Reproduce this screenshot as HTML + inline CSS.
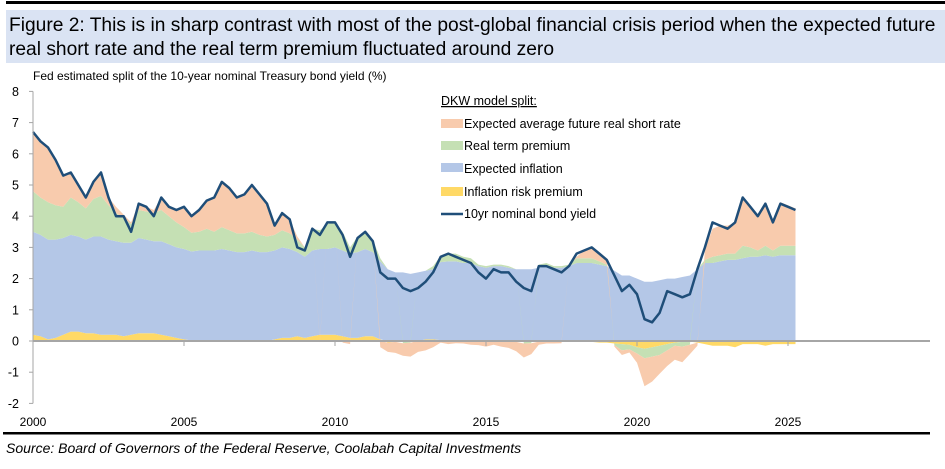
<!DOCTYPE html>
<html><head><meta charset="utf-8"><style>
body{margin:0;width:945px;height:464px;background:#fff;overflow:hidden;font-family:"Liberation Sans",sans-serif;}
</style></head><body>
<svg width="945" height="464" viewBox="0 0 945 464" xmlns="http://www.w3.org/2000/svg" id="svg">
<rect x="6" y="1" width="939" height="3" fill="#000"/>
<rect x="6" y="10" width="939" height="53" fill="#dae3f3"/>
<text x="9" y="31" font-size="19.2" fill="#000">Figure 2: This is in sharp contrast with most of the post-global financial crisis period when the expected future</text>
<text x="9" y="55" font-size="19.2" fill="#000">real short rate and the real term premium fluctuated around zero</text>
<text x="33" y="80" font-size="12" fill="#000">Fed estimated split of the 10-year nominal Treasury bond yield (%)</text>
<g id="marks"></g>
<g id="axes"></g>
<g>
<text x="441" y="105" font-size="12.5" text-decoration="underline">DKW model split:</text>
<rect x="441" y="119" width="22" height="9" fill="#f8cbad"/>
<text x="464" y="128" font-size="12.5">Expected average future real short rate</text>
<rect x="441" y="141" width="22" height="9" fill="#c5e0b4"/>
<text x="464" y="150" font-size="12.5">Real term premium</text>
<rect x="441" y="163" width="22" height="9" fill="#b4c7e7"/>
<text x="464" y="173" font-size="12.5">Expected inflation</text>
<rect x="441" y="187" width="22" height="9" fill="#ffd966"/>
<text x="464" y="196" font-size="12.5">Inflation risk premium</text>
<line x1="441" y1="214" x2="463" y2="214" stroke="#1f4e79" stroke-width="2.5"/>
<text x="464" y="218" font-size="12.5">10yr nominal bond yield</text>
</g>
<rect x="3" y="432" width="927" height="2.5" fill="#000"/>
<text x="6" y="453" font-size="14" font-style="italic">Source: Board of Governors of the Federal Reserve, Coolabah Capital Investments</text>
</svg>
<script>
const startYear = 2000;
const yTicks = [8,7,6,5,4,3,2,1,0,-1,-2];
const xTicks = [2000,2005,2010,2015,2020,2025];
const yieldSeries = [6.7,6.4,6.2,5.8, 5.3,5.4,5.0,4.6, 5.1,5.4,4.6,4.0, 4.0,3.5,4.4,4.3, 4.0,4.6,4.3,4.2, 4.3,4.0,4.2,4.5, 4.6,5.1,4.9,4.6, 4.7,5.0,4.7,4.4, 3.7,4.1,3.9,3.0, 2.9,3.6,3.4,3.8, 3.8,3.4,2.7,3.3, 3.5,3.2,2.2,2.0, 2.0,1.7,1.6,1.7, 1.9,2.2,2.7,2.8, 2.7,2.6,2.5,2.2, 2.0,2.3,2.2,2.2, 1.9,1.7,1.6,2.4, 2.4,2.3,2.2,2.4, 2.8,2.9,3.0,2.8, 2.6,2.1,1.6,1.8, 1.5,0.7,0.6,0.9, 1.6,1.5,1.4,1.5, 2.3,3.0,3.8,3.7, 3.6,3.8,4.6,4.3, 4.0,4.4,3.8,4.4, 4.3,4.2];
const expInflation = [3.3,3.25,3.2,3.15, 3.1,3.1,3.05,3.0, 3.1,3.15,3.05,3.0, 3.0,2.95,3.05,3.0, 2.95,3.0,2.95,2.9, 2.9,2.85,2.9,2.9, 2.9,2.95,2.9,2.85, 2.85,2.9,2.85,2.85, 2.85,2.9,2.85,2.7, 2.6,2.75,2.75,2.75, 2.8,2.75,2.7,2.75, 2.8,2.7,2.5,2.3, 2.2,2.2,2.15,2.2, 2.2,2.25,2.5,2.55, 2.55,2.5,2.5,2.4, 2.35,2.4,2.4,2.35, 2.3,2.3,2.3,2.35, 2.4,2.35,2.35,2.4, 2.5,2.5,2.5,2.45, 2.4,2.25,2.1,2.1, 2.0,1.9,1.9,1.95, 2.0,2.0,2.05,2.1, 2.3,2.5,2.5,2.55, 2.6,2.6,2.65,2.7, 2.7,2.75,2.7,2.75, 2.75,2.75];
const inflRiskPrem = [0.2,0.15,0.05,0.1, 0.2,0.3,0.3,0.25, 0.25,0.2,0.2,0.2, 0.15,0.2,0.25,0.25, 0.25,0.2,0.15,0.1, 0.05,0.02,0,0, 0,0,-0.02,-0.03, -0.02,-0.02,-0.03,-0.02, 0.05,0.1,0.1,0.15, 0.1,0.15,0.2,0.2, 0.2,0.15,0.1,0.1, 0.15,0.15,0.05,-0.05, -0.03,-0.02,0,0, 0.05,0.05,0.03,0, -0.02,-0.03,-0.02,-0.03, -0.03,-0.02,-0.03,-0.02, -0.03,-0.03,-0.02,-0.02, -0.03,-0.03,-0.02,-0.03, -0.02,-0.02,-0.03,-0.05, -0.05,-0.08,-0.1,-0.12, -0.2,-0.25,-0.2,-0.15, -0.1,-0.05,-0.03,-0.02, -0.05,-0.1,-0.15,-0.15, -0.15,-0.2,-0.1,-0.1, -0.1,-0.15,-0.1,-0.1, -0.1,-0.1];
const realTermPrem = [1.3,1.2,1.2,1.1, 1.0,1.2,1.1,1.0, 1.2,1.3,1.1,0.9, 0.8,0.6,0.9,0.9, 0.9,1.0,0.9,0.8, 0.7,0.6,0.6,0.7, 0.6,0.7,0.65,0.6, 0.6,0.6,0.55,0.5, 0.5,0.55,0.5,0.4, 0.3,0.7,0.6,0.8, 0.8,0.6,0.2,0.5, 0.5,0.4,0.1,0.0, 0,-0.05,-0.05,0, 0,0.1,0.2,0.25, 0.25,0.2,0.15,0.05, 0.05,0.05,0.05,0.05, 0.0,-0.05,-0.05,0.1, 0.1,0.05,0.05,0.05, 0.15,0.15,0.15,0.1, 0.05,-0.05,-0.2,-0.15, -0.2,-0.3,-0.3,-0.3, -0.2,-0.1,-0.15,-0.1, 0,0.1,0.2,0.2, 0.2,0.2,0.4,0.3, 0.2,0.3,0.2,0.3, 0.3,0.3];
const realShortRate = [1.9,1.8,1.75,1.45, 1.0,0.8,0.55,0.35, 0.55,0.75,0.25,0.2, 0.1,0.05,0.2,0.15, 0.1,0.4,0.3,0.4, 0.6,0.55,0.7,0.9, 1.1,1.45,1.35,1.2, 1.25,1.5,1.3,1.05, 0.3,0.55,0.45,0.1, 0,0,-0.05,0, 0,-0.05,-0.1,0, 0.05,0,-0.2,-0.3, -0.35,-0.4,-0.45,-0.35, -0.3,-0.2,-0.05,-0.1, -0.05,-0.05,-0.1,-0.1, -0.15,-0.1,-0.15,-0.2, -0.3,-0.45,-0.35,-0.1, -0.05,-0.05,-0.05,0, 0.05,0.25,0.35,0.3, 0.2,-0.05,-0.15,-0.1, -0.3,-0.9,-0.8,-0.6, -0.5,-0.45,-0.5,-0.3, -0.1,0.3,0.9,0.95, 0.9,1.0,1.5,1.3, 1.1,1.35,1.0,1.4, 1.3,1.2];

const NS="http://www.w3.org/2000/svg";
function xs(t){return 33+(t-startYear)*30.2;}
function ys(v){return 341-31.2*v;}
function tOf(i){return startYear+i/4;}
const marks=document.getElementById('marks');
const axes=document.getElementById('axes');
const n=yieldSeries.length;
const layers=[
 {d:inflRiskPrem,c:'#ffd966',name:'area-inflation-risk-premium'},
 {d:expInflation,c:'#b4c7e7',name:'area-expected-inflation'},
 {d:realTermPrem,c:'#c5e0b4',name:'area-real-term-premium'},
 {d:realShortRate,c:'#f8cbad',name:'area-real-short-rate'}];
const pos=new Array(n).fill(0), neg=new Array(n).fill(0);
const paths=[];
layers.forEach(L=>{
 let top=[],bot=[];
 for(let i=0;i<n;i++){
  const v=L.d[i];
  let b,t;
  if(v>=0){b=pos[i];t=pos[i]+v;pos[i]=t;}else{b=neg[i];t=neg[i]+v;neg[i]=t;}
  const x0=xs(tOf(i));
  top.push([x0,ys(t)]);
  bot.push([x0,ys(b)]);
 }
 const pts=top.concat(bot.reverse()).map(p=>p[0].toFixed(1)+','+p[1].toFixed(1)).join(' ');
 const pg=document.createElementNS(NS,'polygon');
 pg.setAttribute('points',pts);pg.setAttribute('fill',L.c);
 
 
 paths.push(pg);
});
paths.forEach(p=>marks.appendChild(p));
const zl=document.createElementNS(NS,'line');
zl.setAttribute('x1',33);zl.setAttribute('x2',930);zl.setAttribute('y1',ys(0));zl.setAttribute('y2',ys(0));
zl.setAttribute('stroke','#a6a6a6');zl.setAttribute('stroke-width','2');


axes.appendChild(zl);
const yl=document.createElementNS(NS,'polyline');
yl.setAttribute('points',yieldSeries.map((v,i)=>xs(tOf(i)).toFixed(1)+','+ys(v).toFixed(1)).join(' '));
yl.setAttribute('fill','none');yl.setAttribute('stroke','#1f4e79');yl.setAttribute('stroke-width','2.5');yl.setAttribute('stroke-linejoin','round');


axes.appendChild(yl);
const ya=document.createElementNS(NS,'line');
ya.setAttribute('x1',33);ya.setAttribute('x2',33);ya.setAttribute('y1',ys(8));ya.setAttribute('y2',ys(-2));
ya.setAttribute('stroke','#a6a6a6');ya.setAttribute('stroke-width','1');


axes.appendChild(ya);
yTicks.forEach(v=>{
 const tk=document.createElementNS(NS,'line');
 tk.setAttribute('x1',29);tk.setAttribute('x2',33);tk.setAttribute('y1',ys(v));tk.setAttribute('y2',ys(v));
 tk.setAttribute('stroke','#a6a6a6');
 
 
 axes.appendChild(tk);
 const tx=document.createElementNS(NS,'text');
 tx.setAttribute('x',19);tx.setAttribute('y',ys(v)+4.5);tx.setAttribute('font-size','12.5');tx.setAttribute('text-anchor','end');
 tx.textContent=v;
 
 
 axes.appendChild(tx);
});
xTicks.forEach(yr=>{
 const tk=document.createElementNS(NS,'line');
 tk.setAttribute('x1',xs(yr));tk.setAttribute('x2',xs(yr));tk.setAttribute('y1',ys(0));tk.setAttribute('y2',ys(0)+5);
 tk.setAttribute('stroke','#a6a6a6');
 
 
 axes.appendChild(tk);
 const tx=document.createElementNS(NS,'text');
 tx.setAttribute('x',xs(yr));tx.setAttribute('y',426);tx.setAttribute('font-size','12');tx.setAttribute('text-anchor','middle');
 tx.textContent=yr;
 
 
 axes.appendChild(tx);
});
</script>
</body></html>
